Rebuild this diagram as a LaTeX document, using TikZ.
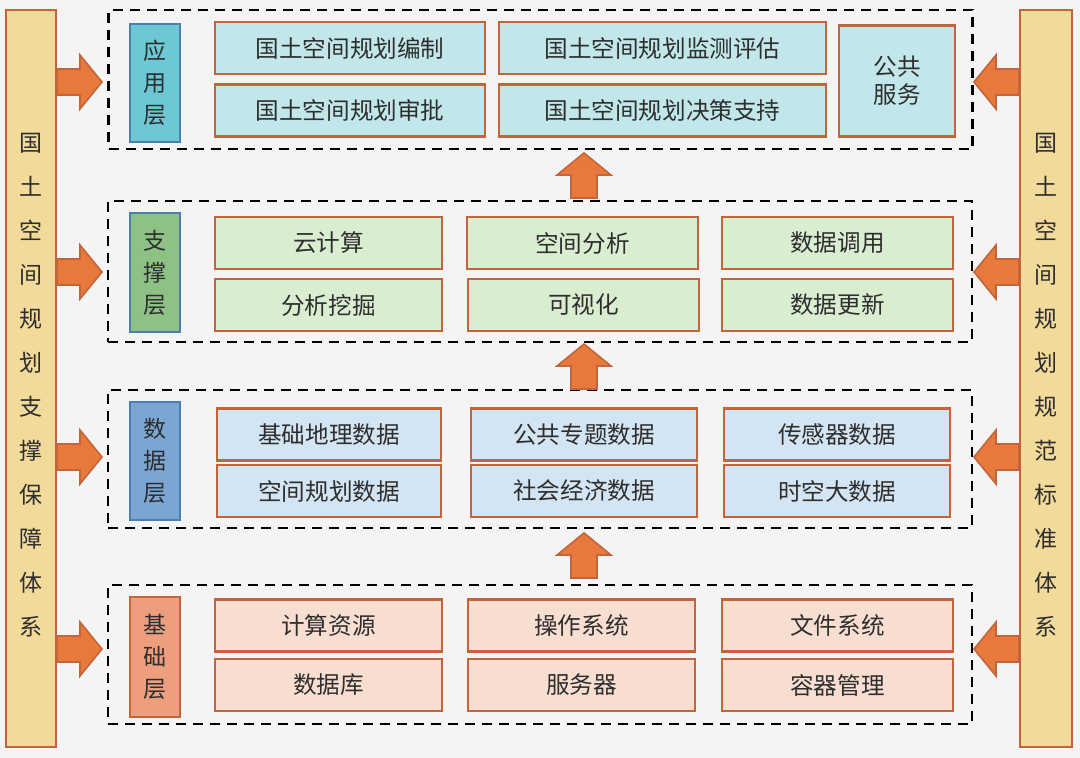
\documentclass[tikz,border=0pt]{standalone}
\usepackage{fontspec}
\setmainfont{Noto Sans CJK SC}
\usetikzlibrary{positioning}

\definecolor{bgcol}{HTML}{F4F4F4}
\definecolor{barcol}{HTML}{F2DA9B}
\definecolor{rimcol}{HTML}{C4643A}
\definecolor{tipcol}{HTML}{E8793C}
\definecolor{bluerim}{HTML}{4A80B0}
\definecolor{appdark}{HTML}{6DC7D5}
\definecolor{applight}{HTML}{C2E7EB}
\definecolor{supdark}{HTML}{8EC284}
\definecolor{suplight}{HTML}{D9EDD0}
\definecolor{datdark}{HTML}{7BA6D3}
\definecolor{datlight}{HTML}{D3E4F2}
\definecolor{basdark}{HTML}{EC9E7E}
\definecolor{baslight}{HTML}{F8DED1}
\definecolor{inkcol}{HTML}{2E2E2E}

\tikzset{
    blockarrow/.pic={
        \draw[fill=tipcol, draw=rimcol, line width=0.8pt, line join=miter]
            (0,0) -- (-22,-27) -- (-22,-13) -- (-45,-13) -- (-45,13) -- (-22,13) -- (-22,27) -- cycle;
    }
}

\begin{document}
\begin{tikzpicture}[
        x=0.5pt, y=-0.5pt,
        font=\fontsize{11.8}{14}\selectfont, text=inkcol,
        layer/.style = {draw=black, dash pattern=on 5pt off 3.5pt, line width=1.4pt, minimum width=432pt},
        side/.style = {draw=rimcol, fill=barcol, line width=1.2pt, minimum height=368.5pt, inner sep=0pt},
        sidetext/.style = {align=center, font=\fontsize{11.5}{22}\selectfont},
        tag/.style = {draw=bluerim, line width=1.2pt, minimum width=25pt, align=center, inner sep=0pt, font=\fontsize{11.5}{16}\selectfont},
        cell/.style = {draw=rimcol, line width=1.3pt, minimum height=26pt, inner sep=0pt}
    ]
    % background and frame
    \fill[bgcol] (0,0) rectangle (1080,758);
    \useasboundingbox (0,0) rectangle (1080,758);

    % side bars
    \node[side, minimum width=25pt] (leftbar) at (31,378.5) {};
    \node[side, minimum width=26pt] (rightbar) at (1046,378.5) {};
    \node[sidetext] (lefttext) at (31,385.5) {国\\土\\空\\间\\规\\划\\支\\撑\\保\\障\\体\\系};
    \node[sidetext] (righttext) at (1046,385.5) {国\\土\\空\\间\\规\\划\\规\\范\\标\\准\\体\\系};

    % layers
    \node[layer, minimum height=69.5pt] (app) at (540.5,79.5) {};
    \node[layer, minimum height=70.5pt] (sup) at (540,271.5) {};
    \node[layer, minimum height=69pt] (dat) at (540,459) {};
    \node[layer, minimum height=69.5pt] (bas) at (540,654.5) {};

    % application layer
    \node[tag, fill=appdark, minimum height=59pt] (apptag) at (155,83) {应\\用\\层};
    \node[cell, fill=applight, minimum width=135pt] (bianzhi) at (350,48) {国土空间规划编制};
    \node[cell, fill=applight, minimum width=135pt] (shenpi) at (350,110.5) {国土空间规划审批};
    \node[cell, fill=applight, minimum width=163.5pt] (jiance) at (662.5,48) {国土空间规划监测评估};
    \node[cell, fill=applight, minimum width=163.5pt] (juece) at (662.5,110.5) {国土空间规划决策支持};
    \node[cell, fill=applight, minimum width=58pt, minimum height=55.5pt, align=center] (gonggong) at (897,81) {公共\\服务};

    % support layer
    \node[tag, fill=supdark, minimum height=59.5pt] (suptag) at (155,272.5) {支\\撑\\层};
    \node[cell, fill=suplight, minimum width=113.5pt] (yunjisuan) at (328.5,243) {云计算};
    \node[cell, fill=suplight, minimum width=113.5pt] (wajue) at (328.5,305) {分析挖掘};
    \node[cell, fill=suplight, minimum width=115.5pt] (kongjian) at (582.5,243) {空间分析};
    \node[cell, fill=suplight, minimum width=115.5pt] (keshihua) at (583.5,305) {可视化};
    \node[cell, fill=suplight, minimum width=115.5pt] (diaoyong) at (837.5,243) {数据调用};
    \node[cell, fill=suplight, minimum width=115.5pt] (gengxin) at (837.5,305) {数据更新};

    % data layer
    \node[tag, fill=datdark, minimum height=59pt] (dattag) at (155,461) {数\\据\\层};
    \node[cell, fill=datlight, minimum width=112pt] (jichu) at (329,434.5) {基础地理数据};
    \node[cell, fill=datlight, minimum width=112pt] (guihua) at (329,491) {空间规划数据};
    \node[cell, fill=datlight, minimum width=113pt] (zhuanti) at (584,434.5) {公共专题数据};
    \node[cell, fill=datlight, minimum width=113pt] (shehui) at (584,491) {社会经济数据};
    \node[cell, fill=datlight, minimum width=113pt] (chuanganqi) at (837,434.5) {传感器数据};
    \node[cell, fill=datlight, minimum width=113pt] (shikong) at (837,491) {时空大数据};

    % base layer
    \node[tag, fill=basdark, draw=rimcol, minimum height=60pt] (bastag) at (155,657) {基\\础\\层};
    \node[cell, fill=baslight, minimum width=113.5pt] (ziyuan) at (328.5,625.5) {计算资源};
    \node[cell, fill=baslight, minimum width=113.5pt] (shujuku) at (328.5,685) {数据库};
    \node[cell, fill=baslight, minimum width=113.5pt] (caozuo) at (581.5,625.5) {操作系统};
    \node[cell, fill=baslight, minimum width=113.5pt] (fuwuqi) at (581.5,685) {服务器};
    \node[cell, fill=baslight, minimum width=115.5pt] (wenjian) at (837.5,625.5) {文件系统};
    \node[cell, fill=baslight, minimum width=115.5pt] (rongqi) at (837.5,685) {容器管理};

    % arrows between layers
    \pic[rotate=90] at (584,153) {blockarrow};
    \pic[rotate=90] at (584,344) {blockarrow};
    \pic[rotate=90] at (584,533) {blockarrow};

    % arrows from the side bars
    \foreach \ya in {82,272,457,649}{
        \pic at (102,\ya) {blockarrow};
        \pic[rotate=180] at (974,\ya) {blockarrow};
    }
\end{tikzpicture}
\end{document}
